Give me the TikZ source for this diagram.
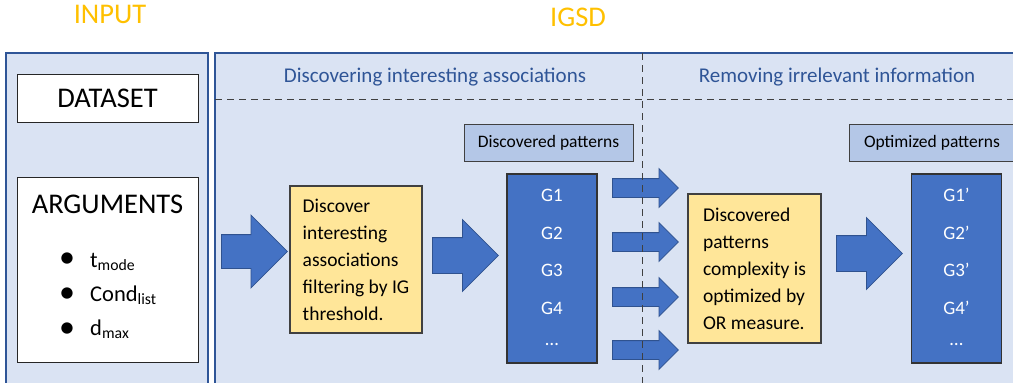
\documentclass[tikz,border=0pt]{standalone}
\usepackage{fontspec}
\setmainfont{Carlito}
\usetikzlibrary{shapes.arrows, positioning}
\definecolor{panelfill}{HTML}{DAE3F3}
\definecolor{panelline}{HTML}{2F5597}
\definecolor{headblue}{HTML}{2F5597}
\definecolor{titleorange}{HTML}{FFC000}
\definecolor{stepfill}{HTML}{FFE699}
\definecolor{tagfill}{HTML}{B4C7E7}
\definecolor{listfill}{HTML}{4472C4}
\definecolor{arrowfill}{HTML}{4472C4}
\definecolor{arrowline}{HTML}{2F528F}
\definecolor{boxline}{HTML}{404040}

\begin{document}
\begin{tikzpicture}[x=1pt,y=-1pt]
		\tikzstyle{panel} = [draw=panelline, fill=panelfill, line width=1.3pt]
		\tikzstyle{title} = [text=titleorange, font=\fontsize{28.5}{34}\selectfont]
		\tikzstyle{phase} = [text=headblue, font=\fontsize{21}{25}\selectfont]
		\tikzstyle{sep} = [draw=boxline, line width=0.9pt, dash pattern=on 7pt off 5pt]
		\tikzstyle{inbox} = [rectangle, draw=black!85, fill=white, line width=1pt, minimum width=181pt, font=\fontsize{28.5}{34}\selectfont]
		\tikzstyle{arg} = [inner sep=0pt, font=\fontsize{22.5}{27}\selectfont]
		\tikzstyle{stepbox} = [rectangle, draw=boxline, fill=stepfill, line width=1.2pt, align=left, font=\fontsize{19.5}{27}\selectfont]
		\tikzstyle{tag} = [rectangle, draw=boxline, fill=tagfill, line width=1pt, minimum height=37pt, font=\fontsize{17.5}{21}\selectfont]
		\tikzstyle{patlist} = [rectangle, draw=black!80, fill=listfill, line width=1.2pt, minimum width=90pt, minimum height=189pt]
		\tikzstyle{pat} = [text=white, font=\fontsize{19}{23}\selectfont]
		\tikzstyle{fat} = [single arrow, anchor=tail, fill=arrowfill, draw=arrowline, line width=0.8pt, inner xsep=0pt, single arrow tip angle=90, minimum height=66pt]
		
		\useasboundingbox (0,0) rectangle (1013,383);
		\clip (0,0) rectangle (1013,383);
		
		% panels
		\draw [panel] (6,53) rectangle (208,395);
		\draw [panel] (215,53) rectangle (1025,395);
		\node (input) [title] at (110,14) {INPUT};
		\node (igsd) [title] at (578,17) {IGSD};
		
		% input side
		\node (dataset) [inbox, minimum height=48pt] at (107.5,98) {DATASET};
		\node (args) [inbox, minimum height=185pt] at (107.5,269.5) {};
		\node (argtitle) [font=\fontsize{28.5}{34}\selectfont] at (107.5,204) {ARGUMENTS};
		\foreach \y/\b/\txt [count=\i] in {260/267/t\textsubscript{mode}, 295/301/Cond\textsubscript{list}, 330/335/d\textsubscript{max}} {
			\node (dot\i) [font=\fontsize{32}{32}\selectfont, inner sep=0pt] at (67,\y) {•};
			\node (arg\i) [arg, anchor=base west] at (90,\b) {\txt};
		}
		
		% phases
		\node (phase1) [phase] at (435,77) {Discovering interesting associations};
		\node (phase2) [phase] at (837,77) {Removing irrelevant information};
		\draw [sep] (215,99) -- (1013,99);
		
		\node (found) [tag, minimum width=169pt] at (548.5,142.5) {Discovered patterns};
		\node (optim) [tag, minimum width=166pt] at (932,142.5) {Optimized patterns};
		
		\node (discover) [stepbox, minimum width=132pt, minimum height=147pt] at (356,259.5) {Discover\\interesting\\associations\\filtering by IG\\threshold.};
		\node (optimize) [stepbox, minimum width=133pt, minimum height=149pt] at (754.5,268.5) {Discovered\\patterns\\complexity is\\optimized by\\OR measure.};
		
		\node (foundlist) [patlist] at (552,268.5) {};
		\node (optimlist) [patlist] at (956.5,268.5) {};
		\foreach \y [count=\i] in {195,233,270,308} {
			\node (g\i) [pat] at (552,\y) {G\i};
			\node (h\i) [pat] at (956.5,\y) {G\i'};
		}
		\node (gdots) [pat, anchor=base] at (552,345) {…};
		\node (hdots) [pat, anchor=base] at (956.5,345) {…};
		
		% arrows
		\node (a1) [fat, inner ysep=16.5pt, single arrow head extend=19.5pt] at (221,251.5) {};
		\node (a2) [fat, inner ysep=17.5pt, single arrow head extend=18pt] at (432,255.5) {};
		\foreach \y [count=\i] in {188,242,297,350}
			\node (s\i) [fat, inner ysep=9pt, single arrow head extend=10pt] at (612,\y) {};
		\node (a3) [fat, inner ysep=17.5pt, single arrow head extend=18pt] at (836,253.5) {};
		
		\draw [sep] (642,53) -- (642,383);
\end{tikzpicture}
\end{document}
